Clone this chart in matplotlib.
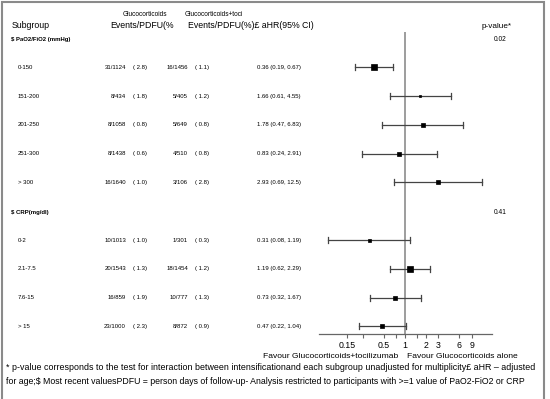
import numpy as np
import matplotlib
matplotlib.use("Agg")
import matplotlib.pyplot as plt
from matplotlib.patches import Rectangle

plt.rcParams['font.family'] = ['Liberation Sans', 'DejaVu Sans']

# data
sections = ["$ PaO2/FiO2 (mmHg)", "$ CRP(mg/dl)"]
section_p = ["0.02", "0.41"]
subgroups = [["0-150", "151-200", "201-250", "251-300", "> 300"],
             ["0-2", "2.1-7.5", "7.6-15", "> 15"]]
events_gc = [["31/1124", "8/434", "8/1058", "8/1438", "16/1640"],
             ["10/1013", "20/1543", "16/859", "23/1000"]]
pct_gc = [["2.8", "1.8", "0.8", "0.6", "1.0"],
          ["1.0", "1.3", "1.9", "2.3"]]
events_toci = [["16/1456", "5/405", "5/649", "4/510", "3/106"],
               ["1/301", "18/1454", "10/777", "8/872"]]
pct_toci = [["1.1", "1.2", "0.8", "0.8", "2.8"],
            ["0.3", "1.2", "1.3", "0.9"]]
ahr = [[0.36, 1.66, 1.78, 0.83, 2.93], [0.31, 1.19, 0.73, 0.47]]
ci_lo = [[0.19, 0.61, 0.47, 0.24, 0.69], [0.08, 0.62, 0.32, 0.22]]
ci_hi = [[0.67, 4.55, 6.83, 2.91, 12.5], [1.19, 2.29, 1.67, 1.04]]
ci_txt_hi = [["0.67", "4.55", "6.83", "2.91", "12.5"], ["1.19", "2.29", "1.67", "1.04"]]
box_px = [[5.7, 2.2, 4.0, 4.5, 4.0], [3.0, 6.7, 4.0, 4.5]]

tick_vals = [0.15, 0.25, 0.5, 0.75, 1, 1.5, 2, 3, 6, 9]
tick_labels = ["0.15", "", "0.5", "", "1", "", "2", "3", "6", "9"]

W, H = 550, 399
fig = plt.figure(figsize=(W / 100, H / 100), dpi=100)


def tx(x, y, s, size=4.3, ha='left', **kw):
    fig.text(x / W, 1 - y / H, s, fontsize=size, ha=ha, va='center', **kw)


# frame
fig.patches.append(Rectangle((2 / W, -0.01), 542 / W, 1 - 2 / H + 0.01,
                             transform=fig.transFigure, fill=False,
                             edgecolor='#8a8a8a', lw=1.5))

# headers
tx(12, 26, "Subgroup", 6.3)
tx(123, 15, "Glucocorticoids", 4.7)
tx(110, 26, "Events/PDFU(%", 6.3)
tx(185, 15, "Glucocorticoids+toci", 4.7)
tx(188, 26, "Events/PDFU(%)£ aHR(95% CI)", 6.3)
tx(482, 26, "p-value*", 5.9)

ax = fig.add_axes([319 / W, 1 - 334 / H, 173 / W, (334 - 32) / H])
ax.set_xscale('log')
ax.set_xlim(0.059, 17.5)
ax.set_ylim(334, 32)

y0, dy = 38.5, 28.8
k = 0
for s in range(len(sections)):
    y = y0 + k * dy
    tx(11, y + 1, sections[s], 4.3, fontweight='bold')
    tx(500, y + 1, section_p[s], 4.8, ha='center')
    k += 1
    for i in range(len(subgroups[s])):
        y = y0 + k * dy
        tx(18, y, subgroups[s][i])
        tx(126, y, events_gc[s][i], ha='right')
        tx(133, y, "( " + pct_gc[s][i] + ")")
        tx(188, y, events_toci[s][i], ha='right')
        tx(195, y, "( " + pct_toci[s][i] + ")")
        tx(257, y, "%.2f (%.2f, %s)" % (ahr[s][i], ci_lo[s][i], ci_txt_hi[s][i]))
        ax.plot([ci_lo[s][i], ci_hi[s][i]], [y, y], color='#444444', lw=0.9)
        for v in (ci_lo[s][i], ci_hi[s][i]):
            ax.plot([v, v], [y - 3, y + 3], color='#444444', lw=0.9)
        ax.plot(ahr[s][i], y, marker='s', color='black', ms=box_px[s][i] * 0.72,
                mec='black', mew=0.5, zorder=3)
        k += 1

ax.axvline(1, color='#8c8c8c', lw=1.2, zorder=1)
for sp in ['top', 'left', 'right']:
    ax.spines[sp].set_visible(False)
ax.spines['bottom'].set_color('#666666')
ax.spines['bottom'].set_linewidth(0.9)
ax.set_yticks([])
ax.set_xticks(tick_vals)
ax.set_xticklabels(tick_labels, fontsize=6.3)
ax.minorticks_off()
ax.tick_params(axis='x', length=3, width=0.8, color='#666666', pad=2)
ax.patch.set_alpha(0)

tx(263, 356, "Favour Glucocorticoids+tocilizumab", 6.1)
tx(407, 356, "Favour Glucocorticoids alone", 6.1)

tx(6, 367, "* p-value corresponds to the test for interaction between intensificationand each subgroup "
   "unadjusted for multiplicity£ aHR \u2013 adjusted", 6.4)
tx(6, 381, "for age;$ Most recent valuesPDFU = person days of follow-up- Analysis restricted to "
   "participants with >=1 value of PaO2-FiO2 or CRP", 6.35)

fig.savefig("out.png", dpi=100)
